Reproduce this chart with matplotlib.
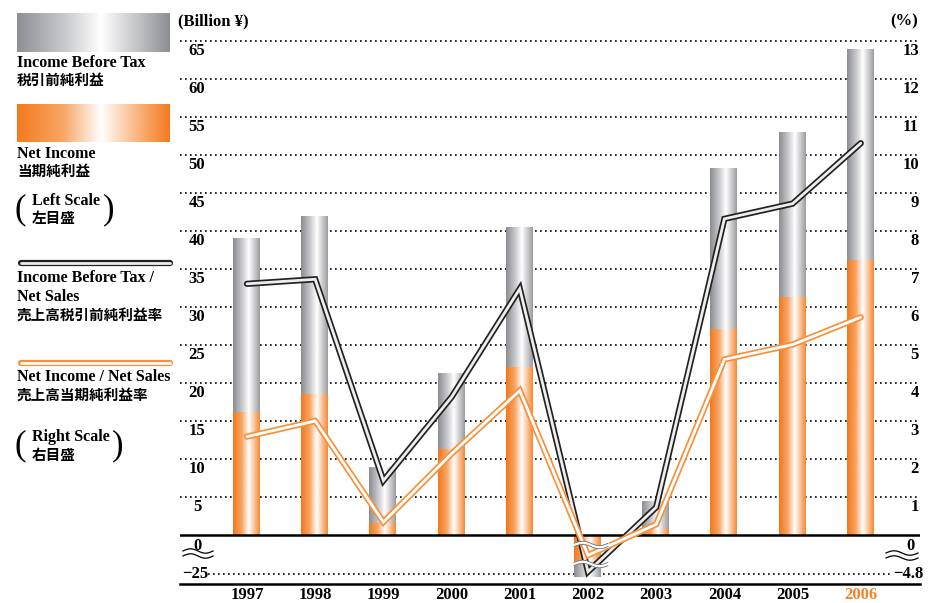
import numpy as np
import matplotlib.pyplot as plt
from matplotlib.colors import LinearSegmentedColormap

plt.rcParams['font.family'] = ['Liberation Serif', 'Noto Sans CJK JP']
plt.rcParams['font.weight'] = 'bold'

# data
years = ['1997', '1998', '1999', '2000', '2001', '2002', '2003', '2004', '2005', '2006']
income_before_tax = [39.1, 42.0, 9.0, 21.4, 40.6, -26.7, 4.5, 48.3, 53.1, 64.0]   # billion yen
net_income = [16.3, 18.6, 1.6, 11.4, 22.2, -19.3, 0.8, 27.2, 31.4, 36.2]          # billion yen
ibt_ratio = [6.61, 6.73, 1.43, 3.63, 6.48, -4.52, 0.73, 8.32, 8.72, 10.31]        # %
ni_ratio = [2.59, 3.00, 0.34, 2.14, 3.80, -2.49, 0.28, 4.62, 5.01, 5.73]          # %
left_ticks = [5, 10, 15, 20, 25, 30, 35, 40, 45, 50, 55, 60, 65]
right_ticks = [1, 2, 3, 4, 5, 6, 7, 8, 9, 10, 11, 12, 13]

gray_cmap = LinearSegmentedColormap.from_list(
    'g', [(0, '#8e8f93'), (0.3, '#c6c7ca'), (0.55, '#ffffff'), (0.8, '#c0c1c4'), (1, '#8d8e92')])
orange_cmap = LinearSegmentedColormap.from_list(
    'o', [(0, '#f47a1f'), (0.3, '#f8a665'), (0.55, '#ffffff'), (0.8, '#f9b27a'), (1, '#f47a1f')])


def broken_scale(k):
    # negative side of the axis is squeezed (axis break below zero)
    def fwd(y):
        y = np.asarray(y, dtype=float)
        return np.where(y >= 0, y, y * k)

    def inv(y):
        y = np.asarray(y, dtype=float)
        return np.where(y >= 0, y, y / k)
    return fwd, inv


def gradient_bars(ax, x, h, cmap, width, z):
    bars = ax.bar(x, h, width, color='none', zorder=z)
    grad = np.linspace(0, 1, 256).reshape(1, -1)
    for b in bars:
        x0, y0 = b.get_x(), b.get_y()
        y1 = y0 + b.get_height()
        im = ax.imshow(grad, cmap=cmap, aspect='auto', interpolation='bicubic',
                       extent=(x0, x0 + b.get_width(), min(y0, y1), max(y0, y1)), zorder=z)
        im.set_clip_path(b)


def double_line(ax, x, y, outer, inner, **kw):
    ax.plot(x, y, color=outer, lw=4.5, solid_capstyle='round', solid_joinstyle='miter', **kw)
    ax.plot(x, y, color=inner, lw=2.0, solid_capstyle='round', solid_joinstyle='miter', **kw)


fig = plt.figure(figsize=(9.35, 6.03), dpi=100)
ax = fig.add_axes([180 / 935, 19 / 603, 740 / 935, 543 / 603])
ax2 = ax.twinx()

x = np.arange(len(years))
gradient_bars(ax, x, income_before_tax, gray_cmap, 0.41, 2)
gradient_bars(ax, x, net_income, orange_cmap, 0.41, 3)

ax.set_yscale('function', functions=broken_scale(0.2053))
ax2.set_yscale('function', functions=broken_scale(0.2138))
ax.set_ylim(-31.4, 65)
ax2.set_ylim(-6.03, 13)
ax.set_xlim(-0.982, 9.868)

for v in left_ticks:
    ax.axhline(v, color='black', lw=1.2, ls=(0, (1, 2)), zorder=1, clip_on=False)
    ax.annotate(str(v), xy=(0.023, v), xycoords=('axes fraction', 'data'), xytext=(0, -7),
                textcoords='offset points', ha='center', va='center', fontsize=12)
ax.axhline(-25, xmin=0.038, xmax=0.9635, color='black', lw=1.2, ls=(0, (1, 2)), zorder=1)
ax.axhline(0, color='black', lw=1.8, zorder=4)
ax.annotate('0', xy=(0.023, 0), xycoords=('axes fraction', 'data'), xytext=(0, -8),
            textcoords='offset points', ha='center', va='center', fontsize=12)
ax.annotate('\u221225', xy=(0.038, -25), xycoords=('axes fraction', 'data'),
            ha='right', va='center', fontsize=12)

for p in right_ticks:
    ax2.annotate(str(p), xy=(0.9986, p), xycoords=('axes fraction', 'data'), xytext=(0, -7),
                 textcoords='offset points', ha='right', va='center', fontsize=12)
ax2.annotate('0', xy=(0.9878, 0), xycoords=('axes fraction', 'data'), xytext=(0, -8),
             textcoords='offset points', ha='center', va='center', fontsize=12)
ax2.annotate('\u22124.8', xy=(0.9635, -4.8), xycoords=('axes fraction', 'data'),
             ha='left', va='center', fontsize=12)

double_line(ax2, x, ibt_ratio, '#222222', '#eeeeee', zorder=5)
double_line(ax2, x, ni_ratio, '#f5913c', '#ffffff', zorder=5)

for a in (ax, ax2):
    for s in a.spines.values():
        s.set_visible(False)
    a.tick_params(left=False, right=False, labelleft=False, labelright=False)
ax.spines['bottom'].set_visible(True)
ax.spines['bottom'].set_linewidth(1.8)
ax.set_xticks(x, years)
ax.tick_params(axis='x', length=0, pad=2.5, labelsize=12)
ax.get_xticklabels()[-1].set_color('#f5822a')

# overlay in pixel coordinates for the legend and break marks
ov = fig.add_axes([0, 0, 1, 1], zorder=10)
ov.axis('off')
ov.patch.set_visible(False)

grad = np.linspace(0, 1, 256).reshape(1, -1)
ov.imshow(grad, cmap=gray_cmap, extent=(17, 170, 52, 13), aspect='auto', interpolation='bicubic')
ov.imshow(grad, cmap=orange_cmap, extent=(17, 170, 142, 104), aspect='auto', interpolation='bicubic')
ov.set_xlim(0, 935)
ov.set_ylim(603, 0)

lat = dict(fontsize=11.5, va='center', ha='left')
cjk = dict(fontsize=10.5, va='center', ha='left')
ov.text(17, 63, 'Income Before Tax', **lat)
ov.text(17, 81, '税引前純利益', **cjk)
ov.text(17, 154, 'Net Income', **lat)
ov.text(17, 172, '当期純利益', **cjk)
ov.text(15, 210, '(', fontsize=25, weight='normal', va='center')
ov.text(32, 201, 'Left Scale', **lat)
ov.text(32, 219, '左目盛', **cjk)
ov.text(103, 210, ')', fontsize=25, weight='normal', va='center')

double_line(ov, [21, 170], [263, 263], '#222222', '#eeeeee')
ov.text(17, 278, 'Income Before Tax /', **lat)
ov.text(17, 297, 'Net Sales', **lat)
ov.text(17, 316, '売上高税引前純利益率', **cjk)
double_line(ov, [21, 170], [363, 363], '#f5913c', '#ffffff')
ov.text(17, 377, 'Net Income / Net Sales', **lat)
ov.text(17, 396, '売上高当期純利益率', **cjk)
ov.text(15, 446, '(', fontsize=25, weight='normal', va='center')
ov.text(32, 437, 'Right Scale', **lat)
ov.text(32, 456, '右目盛', **cjk)
ov.text(112, 446, ')', fontsize=25, weight='normal', va='center')

ov.text(178, 21, '(Billion \u00a5)', fontsize=12, va='center', ha='left')
ov.text(918, 21, '(%)', fontsize=12, va='center', ha='right')

t = np.linspace(0, 1, 60)
wave = 2.2 * np.sin(2 * np.pi * t)
for x0, x1, y0 in [(183, 213, 551), (183, 213, 556), (886, 918, 553), (886, 918, 558)]:
    ov.plot(x0 + (x1 - x0) * t, y0 - wave, color='black', lw=0.9)
# break marks across the 2002 bar
for y0 in [545, 564]:
    ov.plot(574 + 34 * t, y0 - wave, color='white', lw=2.6, zorder=11)
    ov.plot(574 + 34 * t, y0 - 1.6 - wave, color='#555555', lw=0.5, zorder=12)
    ov.plot(574 + 34 * t, y0 + 1.6 - wave, color='#555555', lw=0.5, zorder=12)

fig.savefig('out.png', dpi=100)
